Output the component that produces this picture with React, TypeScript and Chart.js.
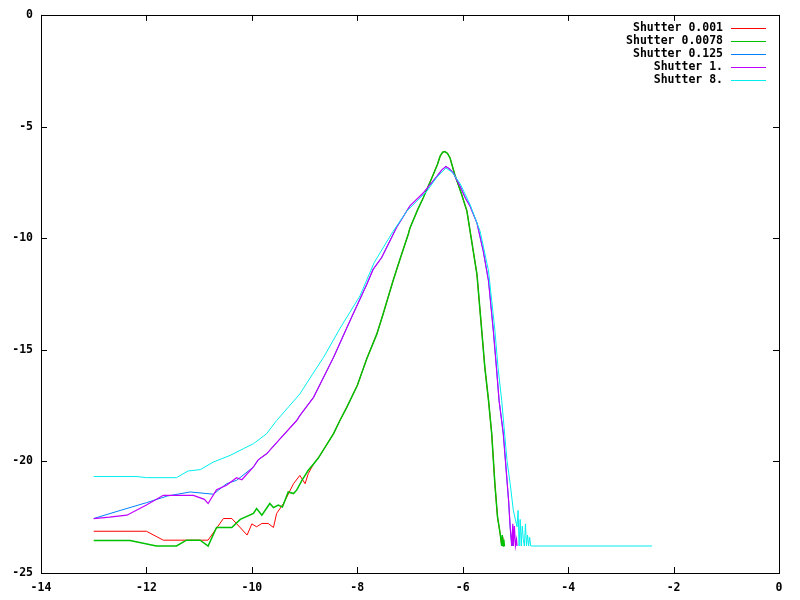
import React, { useEffect, useRef } from "react";
import { Chart, registerables } from "chart.js";

Chart.register(...registerables);

type P = [number, number];

const seriesLabels = ["Shutter 0.001", "Shutter 0.0078", "Shutter 0.125", "Shutter 1.", "Shutter 8."];
const seriesColors = ["#ff0000", "#00c000", "#0080ff", "#c000ff", "#00eeee"];

const xTicks = { min: -14, max: 0, step: 2 };
const yTicks = { min: -25, max: 0, step: 5 };

// shared main body of the narrow curves (0.001 / 0.0078)
const narrowMain: P[] = [
  [-8.83, -20.12], [-8.74, -19.85], [-8.58, -19.25], [-8.45, -18.76], [-8.33, -18.17],
  [-8.2, -17.58], [-8.0, -16.6], [-7.82, -15.4], [-7.63, -14.3], [-7.51, -13.4],
  [-7.32, -11.9], [-7.19, -10.95], [-7.03, -9.8], [-7.0, -9.54], [-6.85, -8.7],
  [-6.75, -8.2], [-6.65, -7.65], [-6.56, -7.16], [-6.48, -6.7], [-6.43, -6.34],
  [-6.38, -6.15], [-6.34, -6.12], [-6.29, -6.2], [-6.24, -6.41], [-6.15, -7.16],
  [-6.02, -8.05], [-5.92, -8.79], [-5.83, -10.13], [-5.73, -11.62], [-5.64, -14.12],
  [-5.58, -15.8], [-5.51, -17.28], [-5.45, -18.76], [-5.39, -21.0], [-5.34, -22.49],
  [-5.29, -23.23], [-5.26, -23.79],
];

const redTail: P[] = [
  [-13.0, -23.13], [-12.0, -23.13], [-11.68, -23.53], [-10.83, -23.53], [-10.54, -22.56],
  [-10.38, -22.56], [-10.09, -23.3], [-10.0, -22.8], [-9.91, -22.93], [-9.81, -22.78],
  [-9.69, -22.78], [-9.59, -22.96], [-9.53, -22.33], [-9.4, -21.89], [-9.21, -21.0],
  [-9.09, -20.63], [-8.99, -21.0], [-8.93, -20.55],
];
const redEnd: P[] = [[-5.25, -23.4], [-5.24, -23.79]];

const greenTail: P[] = [
  [-13.0, -23.54], [-12.31, -23.54], [-11.81, -23.79], [-11.43, -23.79], [-11.24, -23.53],
  [-10.98, -23.53], [-10.83, -23.79], [-10.67, -22.96], [-10.38, -22.96], [-10.22, -22.6],
  [-9.97, -22.33], [-9.91, -22.11], [-9.81, -22.41], [-9.66, -21.89], [-9.59, -22.07],
  [-9.5, -21.96], [-9.42, -22.04], [-9.31, -21.37], [-9.21, -21.44], [-9.15, -21.29],
  [-9.05, -20.85], [-8.93, -20.4],
];
const greenEnd: P[] = [[-5.25, -23.3], [-5.23, -23.79], [-5.22, -23.5], [-5.21, -23.79]];

// shared main body of the wide curves (0.125 / 1.)
const wideMain: P[] = [
  [-9.97, -20.25], [-9.88, -19.93], [-9.72, -19.66], [-9.47, -19.0], [-9.15, -18.17],
  [-9.09, -17.95], [-8.83, -17.13], [-8.45, -15.34], [-8.14, -13.71], [-7.82, -12.07],
  [-7.7, -11.4], [-7.54, -10.88], [-7.25, -9.5], [-7.0, -8.55], [-6.75, -7.98],
  [-6.49, -7.23], [-6.4, -6.95], [-6.32, -6.79], [-6.25, -6.9], [-6.18, -7.08],
  [-6.05, -7.68], [-5.95, -8.2], [-5.86, -8.57], [-5.73, -9.32], [-5.61, -10.58],
  [-5.51, -11.92], [-5.42, -14.12], [-5.36, -15.8], [-5.31, -17.28], [-5.23, -18.76],
  [-5.18, -20.25], [-5.13, -21.74], [-5.1, -22.93], [-5.07, -23.79],
];

const blueTail: P[] = [
  [-13.0, -22.56], [-12.5, -22.2], [-12.0, -21.85], [-11.6, -21.55], [-11.17, -21.37],
  [-10.73, -21.47], [-10.48, -21.0], [-10.29, -20.85],
];
const blueEnd: P[] = [[-5.06, -23.3], [-5.05, -23.79]];

const purpleTail: P[] = [
  [-13.0, -22.56], [-12.7, -22.5], [-12.37, -22.41], [-12.0, -21.95], [-11.68, -21.52],
  [-11.11, -21.52], [-10.9, -21.7], [-10.83, -21.89], [-10.67, -21.27], [-10.48, -21.07],
  [-10.29, -20.73], [-10.19, -20.82],
];
const purpleEnd: P[] = [
  [-5.05, -22.8], [-5.04, -23.79], [-5.02, -22.9], [-5.0, -23.79], [-4.98, -23.5], [-4.97, -23.79],
];

const cyanData: P[] = [
  [-13.0, -20.68], [-12.18, -20.68], [-12.0, -20.73], [-11.43, -20.73], [-11.21, -20.43],
  [-10.98, -20.37], [-10.73, -20.03], [-10.41, -19.73], [-10.16, -19.43], [-9.97, -19.21],
  [-9.72, -18.76], [-9.53, -18.17], [-9.3, -17.55], [-9.09, -16.98], [-8.85, -16.1],
  [-8.64, -15.34], [-8.33, -14.05], [-7.95, -12.59], [-7.68, -11.1], [-7.32, -9.69],
  [-7.06, -8.79], [-6.68, -7.9], [-6.5, -7.3], [-6.32, -6.86], [-6.2, -7.05],
  [-6.05, -7.55], [-5.86, -8.5], [-5.67, -9.69], [-5.51, -11.47], [-5.39, -14.12],
  [-5.33, -15.8], [-5.26, -17.28], [-5.16, -19.96], [-5.1, -21.0], [-5.04, -22.19],
  [-4.97, -22.93], [-4.95, -22.2], [-4.93, -23.79], [-4.91, -22.6], [-4.89, -23.79],
  [-4.87, -22.9], [-4.85, -23.5], [-4.83, -23.79], [-4.81, -22.8], [-4.79, -23.79],
  [-4.77, -23.3], [-4.75, -23.79], [-4.73, -23.4], [-4.71, -23.79], [-4.69, -23.79],
  [-2.41, -23.79],
];

const seriesPoints: P[][] = [
  [...redTail, ...narrowMain, ...redEnd],
  [...greenTail, ...narrowMain, ...greenEnd],
  [...blueTail, ...wideMain, ...blueEnd],
  [...purpleTail, ...wideMain, ...purpleEnd],
  cyanData,
];
const seriesWidths = [1, 1.5, 1, 1.2, 1];

const FONT = '"DejaVu Sans Mono", "Liberation Mono", monospace';

const framePlugin = {
  id: "frame",
  afterDatasetsDraw(chart: any) {
    const { ctx, chartArea: a, scales } = chart;
    ctx.save();
    ctx.strokeStyle = "#000";
    ctx.lineWidth = 1;
    ctx.beginPath();
    const tl = 6;
    scales.x.ticks.forEach((t: any) => {
      const px = Math.round(scales.x.getPixelForValue(t.value)) + 0.5;
      ctx.moveTo(px, a.bottom);
      ctx.lineTo(px, a.bottom - tl);
      ctx.moveTo(px, a.top);
      ctx.lineTo(px, a.top + tl);
    });
    scales.y.ticks.forEach((t: any) => {
      const py = Math.round(scales.y.getPixelForValue(t.value)) + 0.5;
      ctx.moveTo(a.left, py);
      ctx.lineTo(a.left + tl, py);
      ctx.moveTo(a.right, py);
      ctx.lineTo(a.right - tl, py);
    });
    ctx.stroke();
    ctx.strokeRect(Math.round(a.left) + 0.5, Math.round(a.top) + 0.5, Math.round(a.right - a.left), Math.round(a.bottom - a.top));

    // legend (gnuplot style: right aligned text, sample line to the right)
    ctx.font = "bold 11.5px " + FONT;
    ctx.textAlign = "right";
    ctx.textBaseline = "middle";
    chart.data.datasets.forEach((ds: any, i: number) => {
      const y = a.top + 13 + i * 13;
      ctx.fillStyle = "#000";
      ctx.fillText(ds.label, a.right - 56, y);
      ctx.strokeStyle = ds.borderColor;
      ctx.lineWidth = 1;
      ctx.beginPath();
      ctx.moveTo(a.right - 48, Math.round(y) + 0.5);
      ctx.lineTo(a.right - 13, Math.round(y) + 0.5);
      ctx.stroke();
    });
    ctx.restore();
  },
};

export default function App() {
  const ref = useRef<HTMLCanvasElement>(null);
  useEffect(() => {
    document.body.style.margin = "0";
    const canvas = ref.current!;
    const chart = new Chart(canvas, {
      type: "line",
      data: {
        datasets: seriesLabels.map((label, i) => ({
          label,
          data: seriesPoints[i].map(([x, y]) => ({ x, y })),
          borderColor: seriesColors[i],
          backgroundColor: seriesColors[i],
          borderWidth: seriesWidths[i],
          pointRadius: 0,
          tension: 0,
          fill: false,
          order: seriesLabels.length - i,
        })),
      },
      options: {
        responsive: false,
        animation: false,
        layout: { padding: { top: 13, right: 21, left: 0, bottom: 0 } },
        plugins: { legend: { display: false }, tooltip: { enabled: false } },
        scales: {
          x: {
            type: "linear",
            min: xTicks.min,
            max: xTicks.max,
            ticks: { stepSize: xTicks.step, color: "#000", padding: 8, font: { family: FONT, size: 11.5, weight: "bold" }, maxRotation: 0 },
            grid: { display: false, drawTicks: false },
            border: { display: false },
            afterFit: (s: any) => { s.height = 27; },
          },
          y: {
            type: "linear",
            min: yTicks.min,
            max: yTicks.max,
            ticks: { stepSize: yTicks.step, color: "#000", padding: 8, font: { family: FONT, size: 11.5, weight: "bold" } },
            grid: { display: false, drawTicks: false },
            border: { display: false },
            afterFit: (s: any) => { s.width = 41; },
          },
        },
      },
      plugins: [framePlugin],
    } as any);
    return () => chart.destroy();
  }, []);
  return <canvas ref={ref} width={800} height={600} style={{ display: "block", width: 800, height: 600 }} />;
}
